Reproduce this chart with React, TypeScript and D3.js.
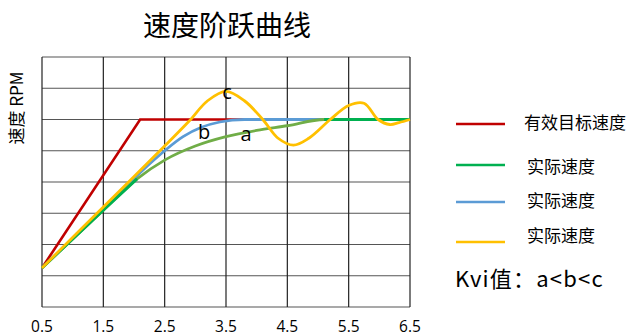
import React from "react";
import * as d3 from "d3";

const xTicks = [0.5, 1.5, 2.5, 3.5, 4.5, 5.5, 6.5];
const yGrid = [0, 1, 2, 3, 4, 5, 6, 7, 8];

const targetX = [0.5, 2.1, 6.5];
const targetY = [1.25, 6, 6];

const curveAX = [0.5, 1.5, 2.05, 2.5, 3.0, 3.5, 4.0, 4.5, 5.1, 5.8, 6.5];
const curveAY = [1.25, 3.1, 4.1, 4.7, 5.15, 5.45, 5.65, 5.8, 6.0, 6.0, 6.0];

const curveBX = [0.5, 1.5, 2.1, 2.5, 2.8, 3.1, 3.4, 3.8, 4.5, 5.5, 6.5];
const curveBY = [1.25, 3.15, 4.3, 5.0, 5.45, 5.75, 5.92, 6.0, 6.0, 6.0, 6.0];

const curveCX = [0.5, 1.5, 2.5, 2.9, 3.2, 3.5, 3.8, 4.1, 4.35, 4.6, 4.85, 5.2, 5.5, 5.75, 5.98, 6.17, 6.32, 6.5];
const curveCY = [1.25, 3.2, 5.15, 5.95, 6.6, 6.9, 6.6, 6.0, 5.4, 5.18, 5.4, 6.0, 6.45, 6.52, 6.0, 5.84, 5.9, 6.0];

const legendItems = ["有效目标速度", "实际速度", "实际速度", "实际速度"];
const legendColors = ["#C00000", "#00B050", "#5B9BD5", "#FFC000"];

const title = "速度阶跃曲线";
const yLabel = "速度 RPM";
const kviText = "Kvi值：a<b<c";

export default function App() {
  const x = d3.scaleLinear().domain([0.5, 6.5]).range([42, 410]);
  const y = d3.scaleLinear().domain([0, 8]).range([307, 57]);
  const zip = (xs: number[], ys: number[]) => xs.map((v, i) => [v, ys[i]] as [number, number]);
  const lineLin = d3.line<[number, number]>().x(d => x(d[0])).y(d => y(d[1]));
  const lineSmooth = d3.line<[number, number]>().x(d => x(d[0])).y(d => y(d[1])).curve(d3.curveCatmullRom.alpha(0.5));
  const lineMono = d3.line<[number, number]>().x(d => x(d[0])).y(d => y(d[1])).curve(d3.curveMonotoneX);

  const a = zip(curveAX, curveAY);
  const aRise = a.filter(p => p[0] <= 2.05);
  const aFlat = a.filter(p => p[0] >= 5.1);
  const b = zip(curveBX, curveBY);
  const c = zip(curveCX, curveCY);
  const red = zip(targetX, targetY);

  const font = "'Noto Sans CJK SC', 'Noto Sans', sans-serif";
  const latin = "'Open Sans', sans-serif";
  const legendY = [124, 165, 202, 242];
  const legendTextY = [123, 167, 201, 236];
  const legendTextX = [524, 527, 527, 527];

  return (
    <svg width={629} height={336} style={{ position: "absolute", left: 0, top: 0, background: "#fff" }} fontFamily={font}>
      <text x={227} y={36} textAnchor="middle" fontSize={28} fill="#000">{title}</text>
      <text transform={`translate(23,108) rotate(-90)`} textAnchor="middle" fontSize={17} fill="#000">{yLabel}</text>
      {yGrid.map(v => (
        <line key={"h" + v} x1={x(0.5)} x2={x(6.5)} y1={y(v)} y2={y(v)} stroke="#555" strokeWidth={1.2} />
      ))}
      {xTicks.map(v => (
        <line key={"v" + v} x1={x(v)} x2={x(v)} y1={y(0)} y2={y(8)} stroke="#222" strokeWidth={1.2} />
      ))}
      {xTicks.map(v => (
        <text key={"t" + v} x={x(v)} y={332} textAnchor="middle" fontSize={15.5} fill="#000" fontFamily={latin}>{v.toFixed(1)}</text>
      ))}
      <path d={lineLin(red) || ""} fill="none" stroke="#C00000" strokeWidth={2.6} />
      <path d={lineMono(b) || ""} fill="none" stroke="#5B9BD5" strokeWidth={2.8} />
      <path d={lineMono(a) || ""} fill="none" stroke="#70AD47" strokeWidth={2.8} />
      <path d={lineLin(aRise) || ""} fill="none" stroke="#00B050" strokeWidth={2.8} />
      <path d={lineLin(aFlat) || ""} fill="none" stroke="#00B050" strokeWidth={2.8} />
      <path d={lineSmooth(c) || ""} fill="none" stroke="#FFC000" strokeWidth={2.8} />
      <text x={227} y={99} textAnchor="middle" fontSize={20} fill="#000" fontFamily={latin}>c</text>
      <text x={204} y={139} textAnchor="middle" fontSize={20} fill="#000" fontFamily={latin}>b</text>
      <text x={246} y={141} textAnchor="middle" fontSize={20} fill="#000" fontFamily={latin}>a</text>
      {legendItems.map((t, i) => (
        <g key={"l" + i}>
          <line x1={456} x2={505} y1={legendY[i]} y2={legendY[i]} stroke={legendColors[i]} strokeWidth={2.6} />
          <text x={legendTextX[i]} y={legendTextY[i]} dy="0.35em" fontSize={17} fill="#000">{t}</text>
        </g>
      ))}
      <text x={455} y={287} fontSize={22} letterSpacing={1.2} fill="#000">{kviText}</text>
    </svg>
  );
}
